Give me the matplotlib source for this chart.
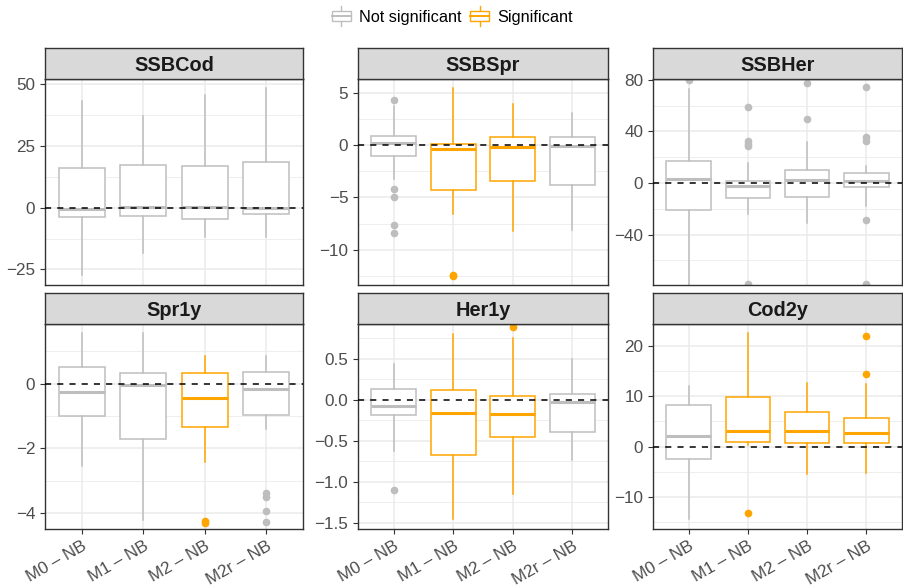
import matplotlib
matplotlib.use("Agg")
import matplotlib.pyplot as plt
from matplotlib.legend_handler import HandlerBase
from matplotlib.lines import Line2D
from matplotlib.patches import Patch, Rectangle
from matplotlib.ticker import FixedLocator

plt.rcParams["font.family"] = ["Liberation Sans", "DejaVu Sans"]

# data
panels = ["SSBCod", "SSBSpr", "SSBHer", "Spr1y", "Her1y", "Cod2y"]
models = ["M0 \u2013 NB", "M1 \u2013 NB", "M2 \u2013 NB", "M2r \u2013 NB"]

whislo = [
    [-27.4, -18.2, -11.8, -11.8],
    [-3.2, -6.55, -8.24, -8.08],
    [-79.0, -24.2, -30.9, -17.7],
    [-2.56, -4.22, -2.41, -1.40],
    [-0.63, -1.46, -1.15, -0.73],
    [-14.4, 0.3, -5.5, -5.3],
]
q1 = [
    [-3.9, -3.4, -4.5, -2.4],
    [-1.02, -4.28, -3.45, -3.77],
    [-20.8, -11.3, -10.8, -3.3],
    [-1.0, -1.70, -1.33, -0.97],
    [-0.18, -0.67, -0.455, -0.39],
    [-2.5, 0.9, 0.8, 0.8],
]
med = [
    [-0.5, 0.4, 0.3, -0.3],
    [0.19, -0.38, -0.22, -0.1],
    [2.8, -2.3, 2.6, 1.3],
    [-0.25, -0.04, -0.46, -0.16],
    [-0.07, -0.16, -0.17, -0.03],
    [2.2, 3.2, 3.1, 2.7],
]
q3 = [
    [16.2, 17.3, 16.8, 18.5],
    [0.86, 0.1, 0.77, 0.8],
    [16.7, 1.3, 10.0, 7.7],
    [0.50, 0.33, 0.33, 0.36],
    [0.13, 0.12, 0.05, 0.07],
    [8.2, 9.9, 6.8, 5.6],
]
whishi = [
    [43.2, 37.2, 45.7, 48.6],
    [3.77, 5.43, 3.96, 3.04],
    [72.8, 15.7, 31.6, 13.0],
    [1.55, 1.55, 0.85, 0.85],
    [0.44, 0.81, 0.76, 0.50],
    [12.1, 22.5, 12.7, 12.4],
]
fliers = [
    [[], [], [], []],
    [[4.28, -4.2, -5.0, -7.6, -8.4], [-12.38, -12.5], [], []],
    [[79.8], [58.9, 32.9, 30.4, 28.8, -78.0], [77.2, 49.6], [74.1, 35.5, 32.9, -28.8, -78.0]],
    [[], [], [-4.25, -4.32], [-3.38, -3.51, -3.94, -4.28]],
    [[-1.10], [], [0.886], []],
    [[], [-13.1], [], [22.0, 14.4]],
]
significant = [
    [0, 0, 0, 0],
    [0, 1, 1, 0],
    [0, 0, 0, 0],
    [0, 0, 1, 0],
    [0, 1, 1, 0],
    [0, 1, 1, 1],
]
yticks = [
    [-25, 0, 25, 50],
    [-10, -5, 0, 5],
    [-40, 0, 40, 80],
    [-4, -2, 0],
    [-1.5, -1.0, -0.5, 0.0, 0.5],
    [-10, 0, 10, 20],
]
ylims = [
    (-31.3, 52.1),
    (-13.35, 6.3),
    (-79.0, 80.6),
    (-4.49, 1.84),
    (-1.577, 0.927),
    (-16.3, 24.3),
]

GREY = "#BEBEBE"
ORANGE = "#FFA500"
W, H = 904, 587

# panel boxes in pixels: (left, right)
cols = [(45, 303), (358, 608), (653, 902)]
rows = [(48, 79, 285), (293, 324, 529)]  # strip top, strip bottom / plot top, plot bottom


def fr(x0, y0, x1, y1):
    return [x0 / W, 1 - y1 / H, (x1 - x0) / W, (y1 - y0) / H]


fig = plt.figure(figsize=(W / 100, H / 100), dpi=100)

for i, name in enumerate(panels):
    r, c = divmod(i, 3)
    x0, x1 = cols[c]
    st, sb, pb = rows[r]
    ax = fig.add_axes(fr(x0, sb, x1, pb))
    sax = fig.add_axes(fr(x0, st, x1, sb))
    sax.set_facecolor("#D9D9D9")
    sax.set_xticks([])
    sax.set_yticks([])
    for sp in sax.spines.values():
        sp.set_color("#333333")
        sp.set_linewidth(1.0)
    sax.text(0.5, 0.45, name, ha="center", va="center", fontsize=14.3,
             fontweight="bold", color="#1A1A1A", transform=sax.transAxes)

    for j in range(4):
        col = ORANGE if significant[i][j] else GREY
        st_ = [dict(med=med[i][j], q1=q1[i][j], q3=q3[i][j],
                    whislo=whislo[i][j], whishi=whishi[i][j],
                    fliers=fliers[i][j])]
        ax.bxp(st_, positions=[j + 1], widths=0.75, showcaps=False,
               patch_artist=True, manage_ticks=False,
               boxprops=dict(facecolor="white", edgecolor=col, linewidth=1.1),
               whiskerprops=dict(color=col, linewidth=1.1),
               medianprops=dict(color=col, linewidth=2.2, solid_capstyle="butt"),
               flierprops=dict(marker="o", markerfacecolor=col,
                               markeredgecolor=col, markersize=4.5,
                               linestyle="none"),
               zorder=2)

    ax.axhline(0, color="black", linestyle=(0, (4, 4)), linewidth=1.1, zorder=5)

    ax.set_xlim(0.4, 4.6)
    ax.set_ylim(*ylims[i])
    yt = yticks[i]
    ax.set_yticks(yt)
    step = yt[1] - yt[0]
    minors = [t - step / 2 for t in yt] + [yt[-1] + step / 2]
    ax.yaxis.set_minor_locator(FixedLocator(minors))
    if name == "Her1y":
        ax.set_yticklabels([f"{t:.1f}".replace("-", "\u2212") for t in yt])
    ax.set_xticks(range(1, 5))
    ax.grid(True, which="major", color="#EBEBEB", linewidth=1.1, zorder=0)
    ax.grid(True, which="minor", axis="y", color="#EBEBEB", linewidth=0.6, zorder=0)
    ax.set_axisbelow(True)
    ax.tick_params(axis="both", which="major", labelsize=12.3, colors="#333333",
                   labelcolor="#4D4D4D", length=3.5, width=0.8)
    ax.tick_params(axis="y", which="minor", length=0)
    if r == 0:
        ax.tick_params(axis="x", length=0, labelbottom=False)
    else:
        ax.set_xticklabels(models, rotation=30, ha="right", rotation_mode="anchor")
    for sp in ax.spines.values():
        sp.set_color("#333333")
        sp.set_linewidth(1.0)


class BoxHandler(HandlerBase):
    def create_artists(self, legend, orig_handle, xdescent, ydescent,
                       width, height, fontsize, trans):
        col = orig_handle.get_edgecolor()
        cx = width / 2 - xdescent
        bw = width * 0.95
        top = height * 1.1
        bot = -height * 0.3
        b1 = height * 0.05
        b2 = height * 0.75
        wl1 = Line2D([cx, cx], [bot, b1], color=col, lw=1.0, transform=trans)
        wl2 = Line2D([cx, cx], [b2, top], color=col, lw=1.0, transform=trans)
        rect = Rectangle((cx - bw / 2, b1), bw, b2 - b1, facecolor="white",
                         edgecolor=col, lw=1.0, transform=trans)
        md = Line2D([cx - bw / 2, cx + bw / 2], [(b1 + b2) / 2] * 2, color=col,
                    lw=1.4, transform=trans)
        return [wl1, wl2, rect, md]


handles = [Patch(edgecolor=GREY, facecolor="white", label="Not significant"),
           Patch(edgecolor=ORANGE, facecolor="white", label="Significant")]
fig.legend(handles=handles, loc="center", bbox_to_anchor=(0.5, 1 - 17 / H),
           ncol=2, frameon=False, fontsize=11.7, handlelength=1.25,
           handleheight=1.0, handletextpad=0.45, columnspacing=0.5,
           handler_map={Patch: BoxHandler()})

fig.savefig("out.png", dpi=100)
